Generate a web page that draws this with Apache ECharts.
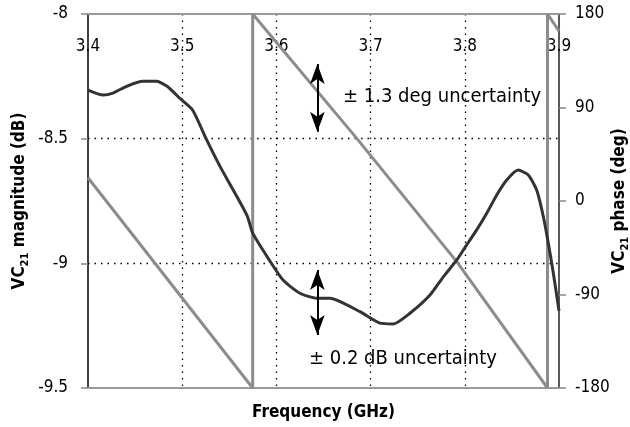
<!DOCTYPE html>
<html>
<head>
<meta charset="utf-8">
<script src="https://cdn.jsdelivr.net/npm/echarts@6/dist/echarts.min.js"></script>
<style>
  html, body { margin: 0; padding: 0; background: #fff; }
  #chart { width: 630px; height: 427px; }
</style>
</head>
<body>
<div id="chart"></div>
<script>
// magnitude trace (left axis, dB)
var magFreq = [3.400, 3.416, 3.4265, 3.441, 3.458, 3.473, 3.484, 3.498, 3.511, 3.526,
               3.540, 3.554, 3.569, 3.575, 3.593, 3.607, 3.625, 3.643, 3.657, 3.6887,
               3.710, 3.7241, 3.7418, 3.7631, 3.7772, 3.7914, 3.802, 3.8126, 3.8233, 3.8339,
               3.8445, 3.8568, 3.8674, 3.8763, 3.8834, 3.8887, 3.894, 3.900];
var magDb = [-8.305, -8.325, -8.317, -8.29, -8.27, -8.27, -8.29, -8.34, -8.385, -8.505,
             -8.61, -8.705, -8.81, -8.88, -8.99, -9.067, -9.12, -9.14, -9.14, -9.194,
             -9.24, -9.243, -9.20, -9.127, -9.054, -8.987, -8.926, -8.866, -8.799, -8.726,
             -8.666, -8.626, -8.646, -8.706, -8.813, -8.92, -9.04, -9.19];

// phase trace (right axis, deg), wraps at +-180
var phaseFreq = [3.400, 3.5748, 3.5748, 3.6853, 3.7914, 3.8878, 3.8878, 3.900];
var phaseDeg = [22.4, -180, 180, 60.3, -58.4, -180, 180, 163.6];

// uncertainty arrows
var arrowFreq = 3.6435;
var phaseArrow = [131.9, 66.7];
var magArrow = [-9.027, -9.287];

var font = '"Liberation Sans Narrow", "DejaVu Sans Condensed", sans-serif';

var magData = magFreq.map(function (f, i) { return [f, magDb[i]]; });
var phaseData = phaseFreq.map(function (f, i) { return [f, phaseDeg[i]]; });

var chart = echarts.init(document.getElementById('chart'));

var nameRich = {
    a: { fontSize: 17, fontWeight: 'bold', fontFamily: font, lineHeight: 22 },
    s: { fontSize: 11, fontWeight: 'bold', fontFamily: font, lineHeight: 12, verticalAlign: 'bottom' }
};

var option = {
    animation: false,
    backgroundColor: '#fff',
    grid: { left: 88, right: 71, top: 14, bottom: 39, outerBoundsMode: 'none', containLabel: false },
    xAxis: [{
        type: 'value',
        position: 'top',
        min: 3.4, max: 3.9, interval: 0.1,
        axisLine: { onZero: false, lineStyle: { color: '#999', width: 2 } },
        axisTick: { show: false },
        axisLabel: {
            inside: true, margin: 24, color: '#000', fontSize: 17, fontFamily: font,
            formatter: function (v) { return v.toFixed(1); }
        },
        splitLine: {
            show: true, showMinLine: false, showMaxLine: false,
            lineStyle: { color: '#000', type: [1.5, 5], width: 1.3 }
        }
    }, {
        type: 'value',
        position: 'bottom',
        min: 3.4, max: 3.9, interval: 0.1,
        axisLine: { onZero: false, lineStyle: { color: '#999', width: 2 } },
        axisTick: { show: false },
        axisLabel: { show: false },
        splitLine: { show: false },
        name: 'Frequency (GHz)',
        nameLocation: 'middle',
        nameGap: 16,
        nameMoveOverlap: false,
        nameTextStyle: { fontSize: 17, fontWeight: 'bold', color: '#000', fontFamily: font }
    }],
    yAxis: [{
        type: 'value',
        position: 'left',
        min: -9.5, max: -8, interval: 0.5,
        axisLine: { show: true, onZero: false, lineStyle: { color: '#000', width: 1.5 } },
        axisTick: { show: true, length: 7, lineStyle: { color: '#888', width: 1.5 } },
        axisLabel: { margin: 20, color: '#000', fontSize: 17, fontFamily: font },
        splitLine: {
            show: true, showMinLine: false, showMaxLine: false,
            lineStyle: { color: '#000', type: [1.5, 5], width: 1.3 }
        },
        name: '{a|VC}{s|21}{a| magnitude (dB)}',
        nameLocation: 'middle',
        nameRotate: 90,
        nameGap: 57,
        nameMoveOverlap: false,
        nameTextStyle: { fontFamily: font, fontWeight: 'bold', color: '#000', rich: nameRich }
    }, {
        type: 'value',
        position: 'right',
        min: -180, max: 180, interval: 90,
        axisLine: { show: true, onZero: false, lineStyle: { color: '#222', width: 1.5 } },
        axisTick: { show: true, length: 7, lineStyle: { color: '#888', width: 1.5 } },
        axisLabel: { margin: 16, color: '#000', fontSize: 17, fontFamily: font },
        splitLine: { show: false },
        name: '{a|VC}{s|21}{a| phase (deg)}',
        nameLocation: 'middle',
        nameRotate: 90,
        nameGap: 50,
        nameMoveOverlap: false,
        nameTextStyle: { fontFamily: font, fontWeight: 'bold', color: '#000', rich: nameRich }
    }],
    series: [{
        name: 'phase',
        type: 'line',
        xAxisIndex: 0,
        yAxisIndex: 1,
        data: phaseData,
        showSymbol: false,
        lineStyle: { color: '#8c8c8c', width: 3 },
        z: 2,
        markLine: {
            silent: true,
            symbol: ['arrow', 'arrow'],
            symbolSize: [11, 20],
            label: { show: false },
            lineStyle: { color: '#000', width: 2, type: 'solid' },
            itemStyle: { color: '#000' },
            data: [[{ coord: [arrowFreq, phaseArrow[0]] }, { coord: [arrowFreq, phaseArrow[1]] }]]
        }
    }, {
        name: 'magnitude',
        type: 'line',
        xAxisIndex: 0,
        yAxisIndex: 0,
        data: magData,
        smooth: 0.2,
        showSymbol: false,
        lineStyle: { color: '#333', width: 3 },
        z: 3,
        markLine: {
            silent: true,
            symbol: ['arrow', 'arrow'],
            symbolSize: [11, 20],
            label: { show: false },
            lineStyle: { color: '#000', width: 2, type: 'solid' },
            itemStyle: { color: '#000' },
            data: [[{ coord: [arrowFreq, magArrow[0]] }, { coord: [arrowFreq, magArrow[1]] }]]
        }
    }],
    graphic: [{
        type: 'text',
        left: 339, top: 81,
        style: {
            text: '\u00b1 1.3 deg uncertainty',
            fontSize: 20, fontFamily: font, fill: '#000',
            backgroundColor: '#fff', padding: [6, 4]
        }
    }, {
        type: 'text',
        left: 305, top: 343,
        style: {
            text: '\u00b1 0.2 dB uncertainty',
            fontSize: 20, fontFamily: font, fill: '#000',
            backgroundColor: '#fff', padding: [6, 4]
        }
    }]
};

chart.setOption(option);
</script>
</body>
</html>
